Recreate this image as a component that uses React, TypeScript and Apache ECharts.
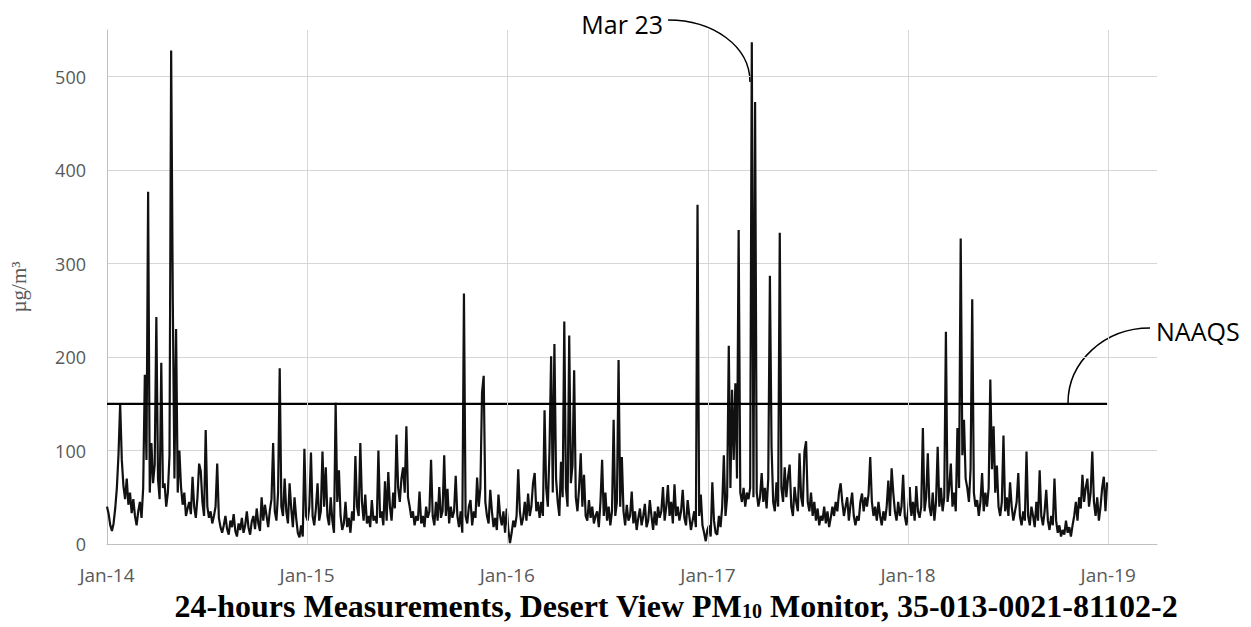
import React, { useEffect, useRef } from "react";
import * as echarts from "echarts";

// Daily PM10 readings, one value kept every SAMPLE_STEP_DAYS days from 1 Jan 2014.
const SAMPLE_STEP_DAYS = 3;

const pm10_2014 = [
  40, 32, 20, 14, 22, 38, 60, 96, 150, 90,
  62, 48, 70, 42, 55, 33, 48, 30, 20, 35,
  45, 28, 60, 181, 90, 377, 55, 108, 65, 85,
  243, 70, 48, 194, 60, 65, 40, 55, 95, 528,
  260, 70, 230, 55, 100, 61, 42, 55, 30, 38,
  45, 32, 72, 40, 28, 50, 86, 78, 45, 30,
  122, 40, 28, 35, 22, 30, 40, 86, 28, 18,
  12, 20, 30, 16, 10, 25, 18, 32, 14, 8,
  22, 15, 28, 12, 20, 35, 18, 10, 24, 30,
  16, 38, 22, 14, 50, 25, 42, 30, 18, 36,
  48, 108, 35, 25, 55, 188, 40, 30, 70, 35,
  22, 65, 38, 18, 50, 28, 12, 7, 20, 8,
  102, 30,
];

const pm10_2015 = [
  25, 40, 98, 30, 20, 38, 65, 25, 35, 99,
  40, 82, 30, 20, 50, 25, 12, 151, 45, 79,
  30, 15, 22, 45, 18, 28, 12, 35, 25, 94,
  40, 30, 108, 45, 25, 53, 22, 30, 18, 47,
  25, 30, 22, 100, 28, 35, 20, 67, 25, 77,
  40, 25, 55, 38, 117, 60, 45, 70, 82, 55,
  126, 50, 40, 28, 35, 20, 30, 25, 56, 22,
  30, 18, 40, 28, 35, 90, 30, 20, 45, 25,
  61, 28, 35, 95, 30, 59, 22, 40, 28, 35,
  73, 30, 18, 35, 12, 268, 30, 22, 40, 47,
  20, 35, 28, 71, 40, 60, 162, 180, 45, 30,
  22, 58, 35, 18, 28, 15, 53, 30, 20, 35,
  12, 38,
];

const pm10_2016 = [
  15, 1, 12, 25, 18, 30, 80, 35, 20, 28,
  45, 25, 54, 30, 40, 65, 76, 35, 45, 28,
  45, 30, 143, 60, 40, 100, 201, 55, 214, 70,
  45, 30, 88, 50, 238, 60, 40, 223, 65, 84,
  186, 50, 35, 60, 97, 40, 74, 30, 25, 47,
  28, 40, 22, 30, 35, 18, 45, 90, 30, 55,
  25, 40, 20, 35, 133, 30, 45, 197, 40, 93,
  35, 20, 42, 25, 30, 56, 22, 35, 15, 28,
  38, 20, 30, 43, 18, 25, 47, 30, 15, 35,
  20, 40, 28, 35, 61, 25, 40, 63, 30, 45,
  22, 64, 30, 40, 25, 35, 58, 28, 20, 47,
  30, 15, 25, 35, 18, 363, 30, 53, 20, 12,
  3, 15,
];

const pm10_2017 = [
  20, 8, 66, 25, 12, 10, 30, 18, 40, 95,
  30, 50, 212, 60, 165, 90, 172, 70, 336, 55,
  45, 60, 40, 55, 48, 60, 537, 50, 473, 55,
  40, 50, 76, 45, 60, 38, 70, 287, 104, 45,
  35, 66, 40, 333, 60, 45, 82, 50, 71, 85,
  40, 30, 61, 45, 35, 97, 50, 40, 99, 110,
  45, 35, 55, 30, 45, 25, 38, 20, 30, 25,
  40, 22, 35, 18, 28, 40, 30, 45, 35, 55,
  65, 45, 30, 40, 50, 25, 42, 55, 30, 20,
  30, 25, 45, 54, 35, 50, 40, 54, 93, 45,
  30, 40, 25, 45, 30, 20, 35, 25, 40, 68,
  30, 81, 55, 35, 25, 45, 30, 40, 74, 30, 20, 35,
];

const pm10_2018 = [
  61, 30, 45, 25, 62, 35, 28, 40, 124, 35,
  50, 97, 40, 30, 55, 25, 45, 104, 40, 60,
  35, 50, 227, 45, 60, 86, 40, 55, 35, 124,
  60, 327, 95, 133, 70, 60, 45, 80, 262, 55,
  40, 47, 30, 45, 76, 35, 55, 40, 60, 176,
  80, 126, 55, 84, 40, 30, 45, 116, 35, 50,
  30, 66, 40, 25, 35, 45, 76, 30, 20, 35,
  25, 99, 30, 20, 40, 30, 18, 45, 25, 79,
  30, 20, 35, 58, 25, 15, 30, 20, 70, 25,
  12, 20, 8, 15, 10, 25, 12, 18, 8, 20,
  30, 45, 25, 50, 38, 74, 45, 60, 70, 40,
  55, 99, 45, 30, 50, 25, 40, 60, 72, 35,
  66,
];

// Days since 1 Jan 2014 for each January tick, and their labels.
const yearTickDays = [0, 365, 730, 1096, 1461, 1826];
const yearTickLabels = ["Jan-14", "Jan-15", "Jan-16", "Jan-17", "Jan-18", "Jan-19"];

const NAAQS_LIMIT = 150;
const NAAQS_SPAN_DAYS = [0, 1824];
const X_MAX_DAYS = 1915;
const Y_MAX = 550;

export default function App() {
  const ref = useRef<HTMLDivElement>(null);

  useEffect(() => {
    const chart = echarts.init(ref.current!, null, { renderer: "svg" });

    const samples = [...pm10_2014, ...pm10_2015, ...pm10_2016, ...pm10_2017, ...pm10_2018];
    const pmData = samples.map((v, k) => [k * SAMPLE_STEP_DAYS, v]);
    const labelFor = (v: number) => {
      const i = yearTickDays.indexOf(Math.round(v));
      return i >= 0 ? yearTickLabels[i] : "";
    };

    const gray = "#595959";
    const gridGray = "#d6d6d6";

    chart.setOption({
      animation: false,
      backgroundColor: "#ffffff",
      grid: { left: 103, right: 94, top: 30, bottom: 83 },
      xAxis: {
        type: "value",
        min: 0,
        max: X_MAX_DAYS,
        axisLine: { show: true, lineStyle: { color: "#bfbfbf", width: 1 } },
        axisTick: { show: false },
        splitLine: { show: false },
        axisLabel: {
          customValues: yearTickDays,
          formatter: labelFor,
          color: gray,
          fontFamily: "Open Sans",
          fontSize: 19,
          margin: 21,
        },
      },
      yAxis: {
        type: "value",
        min: 0,
        max: Y_MAX,
        interval: 100,
        axisLine: { show: true, lineStyle: { color: "#bfbfbf", width: 1 } },
        axisTick: { show: false },
        splitLine: {
          show: true,
          showMinLine: false,
          showMaxLine: false,
          lineStyle: { color: gridGray, width: 1 },
        },
        axisLabel: {
          showMaxLabel: false,
          color: gray,
          fontFamily: "Open Sans",
          fontSize: 18,
          margin: 21,
        },
        name: "µg/m³",
        nameLocation: "middle",
        nameGap: 78,
        nameRotate: 90,
        nameTextStyle: { fontFamily: "Liberation Serif", fontSize: 21, color: gray },
      },
      series: [
        {
          // vertical January gridlines
          type: "line",
          data: [],
          z: 1,
          silent: true,
          markLine: {
            silent: true,
            symbol: "none",
            label: { show: false },
            lineStyle: { color: gridGray, width: 1, type: "solid" },
            data: yearTickDays.slice(1).map((d) => ({ xAxis: d })),
          },
        },
        {
          name: "PM10",
          type: "line",
          data: pmData,
          symbol: "none",
          showSymbol: false,
          z: 3,
          lineStyle: { color: "#111111", width: 2.2 },
        },
        {
          name: "NAAQS",
          type: "line",
          data: NAAQS_SPAN_DAYS.map((d) => [d, NAAQS_LIMIT]),
          symbol: "none",
          showSymbol: false,
          z: 4,
          lineStyle: { color: "#000000", width: 2.2 },
        },
      ],
      graphic: [
        {
          type: "text",
          x: 663,
          y: 24,
          style: {
            text: "Mar 23",
            align: "right",
            verticalAlign: "middle",
            fontFamily: "Open Sans",
            fontSize: 25,
            fill: "#000",
          },
        },
        {
          type: "bezierCurve",
          shape: { x1: 668, y1: 20, cpx1: 713, cpy1: 20, cpx2: 750, cpy2: 46, x2: 750, y2: 82 },
          style: { stroke: "#000", lineWidth: 1.5, fill: null },
        },
        {
          type: "bezierCurve",
          shape: { x1: 1068, y1: 403, cpx1: 1068, cpy1: 362, cpx2: 1104, cpy2: 328, x2: 1150, y2: 328 },
          style: { stroke: "#000", lineWidth: 1.5, fill: null },
        },
        {
          type: "text",
          x: 1156,
          y: 331,
          style: {
            text: "NAAQS",
            align: "left",
            verticalAlign: "middle",
            fontFamily: "Open Sans",
            fontSize: 25,
            fill: "#000",
          },
        },
        {
          type: "text",
          x: 676,
          y: 606,
          style: {
            text: "{t|24-hours Measurements, Desert View PM}{s|10}{t| Monitor, 35-013-0021-81102-2}",
            align: "center",
            verticalAlign: "middle",
            rich: {
              t: { fontFamily: "Liberation Serif", fontWeight: "bold", fontSize: 32, fill: "#000" },
              s: { fontFamily: "Liberation Serif", fontWeight: "bold", fontSize: 20, fill: "#000", padding: [10, 0, 0, 0] },
            },
          },
        },
      ],
    });

    return () => chart.dispose();
  }, []);

  return (
    <div
      ref={ref}
      style={{ position: "fixed", left: 0, top: 0, width: 1251, height: 627, background: "#fff" }}
    />
  );
}
